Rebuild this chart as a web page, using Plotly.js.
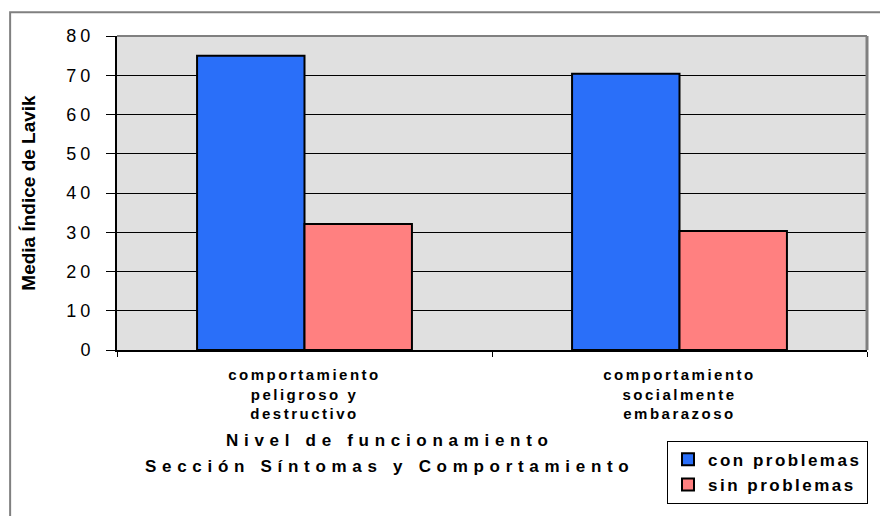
<!DOCTYPE html>
<html>
<head>
<meta charset="utf-8">
<script src="https://cdn.plot.ly/plotly-3.0.1.min.js"></script>
<style>
  html, body { margin: 0; padding: 0; background: #ffffff; }
  #chart { width: 880px; height: 516px; }
  .xtick text { letter-spacing: 2.5px; }
  .ytick text { letter-spacing: 4px; }
  .legendtext { letter-spacing: 2.5px; }
  .annotation-text { letter-spacing: 5.7px; }
</style>
</head>
<body>
<div id="chart"></div>
<script>
// ---- data ----
const categories = ['comportamiento peligroso y destructivo', 'comportamiento socialmente embarazoso'];
const tickLabels = ['comportamiento<br>peligroso y<br>destructivo', 'comportamiento<br>socialmente<br>embarazoso'];
const seriesNames = ['con problemas', 'sin problemas'];
const conProblemas = [75.0, 70.4];
const sinProblemas = [32.1, 30.3];
const yTicks = [0, 10, 20, 30, 40, 50, 60, 70, 80];
const yTitle = 'Media Índice de Lavik';
const xTitle1 = 'Nivel de funcionamiento';
const xTitle2 = 'Sección Síntomas y Comportamiento';

const FONT = 'Arial, "Liberation Sans", sans-serif';
const b = s => '<b>' + s + '</b>';

const traces = [
  {
    type: 'bar', name: b(seriesNames[0]), x: categories, y: conProblemas,
    marker: { color: '#2A6FF9', line: { color: '#000000', width: 2 } }
  },
  {
    type: 'bar', name: b(seriesNames[1]), x: categories, y: sinProblemas,
    marker: { color: '#FF8080', line: { color: '#000000', width: 2 } }
  }
];

const layout = {
  width: 880, height: 516,
  margin: { l: 117, r: 12, t: 36, b: 162 },
  paper_bgcolor: '#ffffff',
  plot_bgcolor: '#E0E0E0',
  barmode: 'group',
  bargap: 0.427,
  bargroupgap: 0,
  showlegend: true,
  font: { family: FONT, color: '#000000' },
  xaxis: {
    type: 'category',
    tickvals: categories,
    ticktext: tickLabels.map(b),
    tickson: 'boundaries',
    ticks: 'outside', ticklen: 5, tickwidth: 1, tickcolor: '#000000',
    ticklabelstandoff: 10,
    showline: true, linecolor: '#000000', linewidth: 2,
    showgrid: false,
    tickfont: { family: FONT, size: 15, color: '#000000' },
    automargin: false
  },
  yaxis: {
    range: [0, 80],
    tickvals: yTicks,
    ticks: 'outside', ticklen: 9, tickwidth: 1, tickcolor: '#000000',
    ticklabelstandoff: 8,
    showline: true, linecolor: '#000000', linewidth: 2,
    showgrid: true, gridcolor: '#000000', gridwidth: 1,
    zeroline: false,
    tickfont: { family: FONT, size: 18, color: '#000000' },
    title: { text: b(yTitle), font: { family: FONT, size: 19, color: '#000000' }, standoff: 26 },
    automargin: false
  },
  legend: {
    x: 1.0013, xanchor: 'right',
    y: -0.289, yanchor: 'top',
    bgcolor: '#ffffff', bordercolor: '#000000', borderwidth: 1,
    font: { family: FONT, size: 17, color: '#000000' },
    itemwidth: 30,
    tracegroupgap: 0
  },
  annotations: [
    { text: b(xTitle1), xref: 'paper', yref: 'paper', x: 0.3635, y: -0.2893,
      xanchor: 'center', yanchor: 'middle', showarrow: false,
      font: { family: FONT, size: 17, color: '#000000' } },
    { text: b(xTitle2), xref: 'paper', yref: 'paper', x: 0.3635, y: -0.371,
      xanchor: 'center', yanchor: 'middle', showarrow: false,
      font: { family: FONT, size: 17, color: '#000000' } }
  ],
  shapes: [
    { type: 'rect', xref: 'paper', yref: 'paper', x0: -0.1425, x1: 1.05, y0: -0.6, y1: 1.0755,
      line: { color: '#808080', width: 2 }, layer: 'below' },
    { type: 'line', xref: 'paper', yref: 'paper', x0: 0, x1: 1, y0: 1, y1: 1,
      line: { color: '#808080', width: 2 } },
    { type: 'line', xref: 'paper', yref: 'paper', x0: 1, x1: 1, y0: 0, y1: 1,
      line: { color: '#808080', width: 3 } }
  ]
};

Plotly.newPlot('chart', traces, layout, { displayModeBar: false, staticPlot: true });
</script>
</body>
</html>
